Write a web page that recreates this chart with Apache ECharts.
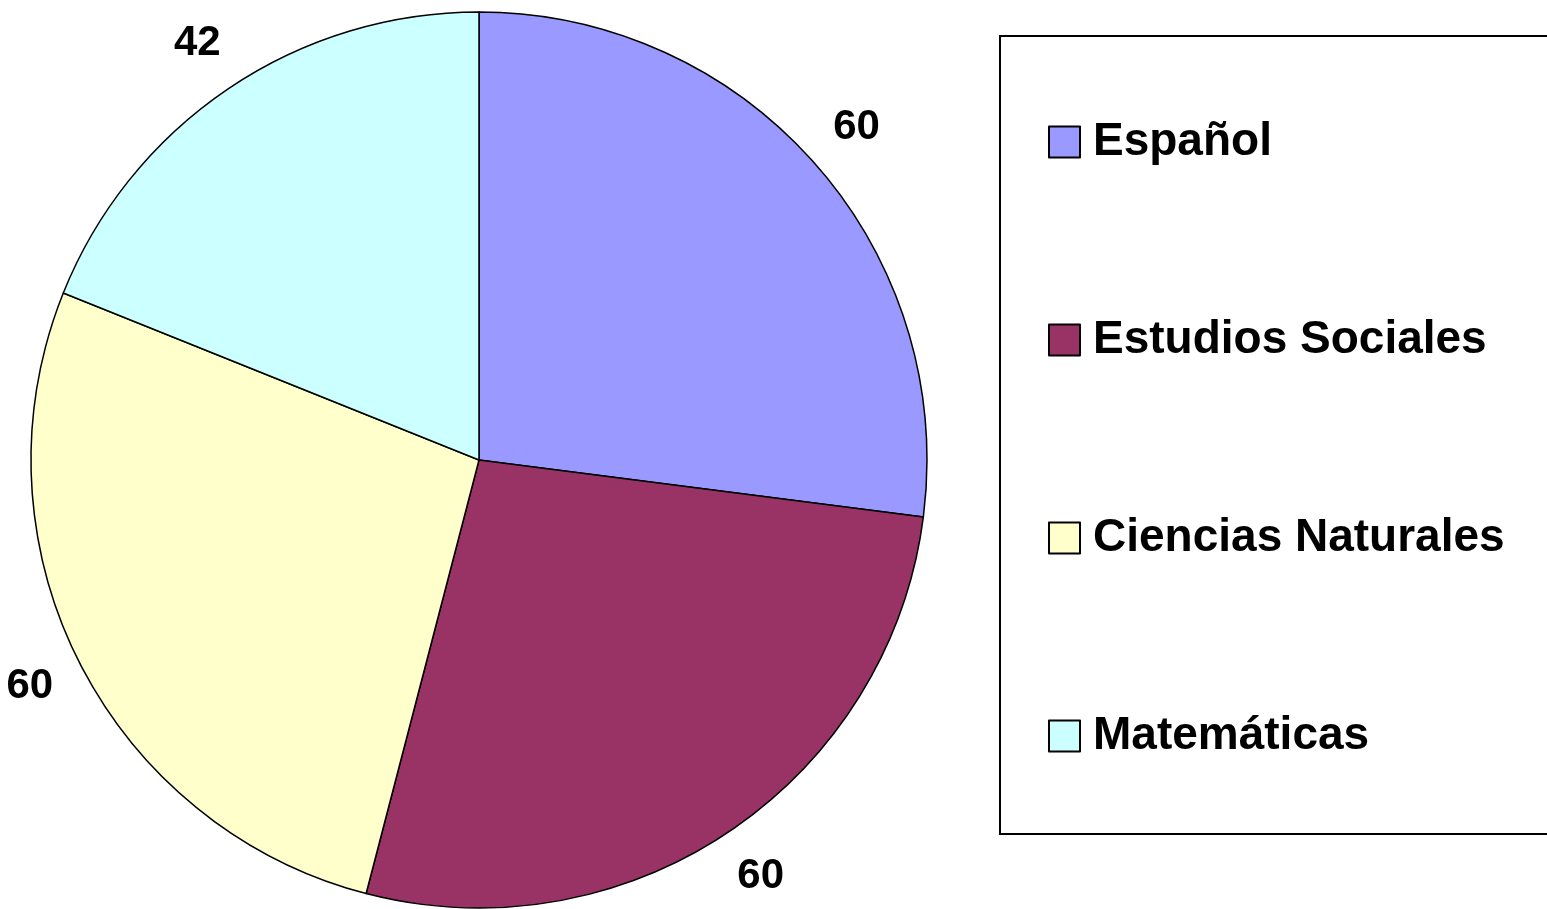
<!DOCTYPE html>
<html>
<head>
<meta charset="utf-8">
<script src="https://cdn.jsdelivr.net/npm/echarts@6/dist/echarts.min.js"></script>
<style>
  html, body { margin: 0; padding: 0; background: #fff; }
  #main { width: 1547px; height: 909px; }
</style>
</head>
<body>
<div id="main"></div>
<script>
// datos del gráfico
const materias = ['Español', 'Estudios Sociales', 'Ciencias Naturales', 'Matemáticas'];
const valores = [60, 60, 60, 42];
const colores = ['#9999FF', '#993366', '#FFFFCC', '#CCFFFF'];

var chart = echarts.init(document.getElementById('main'));

const datos = materias.map((m, i) => ({ name: m, value: valores[i], itemStyle: { color: colores[i] } }));
const etiquetas = materias.map((m, i) => ({ name: m, value: valores[i] }));

var option = {
    animation: false,
    graphic: [{
        type: 'rect',
        shape: { x: 1000, y: 36, width: 600, height: 798 },
        style: { fill: 'none', stroke: '#000', lineWidth: 2 },
        z: -1
    }],
    legend: {
        orient: 'vertical',
        left: 1043,
        top: 114,
        icon: 'rect',
        itemWidth: 31,
        itemHeight: 31,
        itemGap: 152,
        data: materias,
        textStyle: {
            fontFamily: 'Liberation Sans, Arial, sans-serif',
            fontWeight: 'bold',
            fontSize: 46,
            lineHeight: 46,
            color: '#000',
            padding: [0, 0, 0, 8]
        },
        itemStyle: { borderColor: '#000', borderWidth: 2 }
    },
    series: [
        {
            type: 'pie',
            center: [479, 460],
            radius: [0, 448],
            startAngle: 90,
            clockwise: true,
            data: datos,
            label: { show: false },
            labelLine: { show: false },
            itemStyle: { borderColor: '#000', borderWidth: 1.5 },
            emphasis: { disabled: true }
        },
        {
            // anillo invisible solo para colocar las etiquetas fuera
            type: 'pie',
            center: [479, 460],
            radius: [496, 504],
            startAngle: 90,
            clockwise: true,
            silent: true,
            data: etiquetas,
            itemStyle: { color: 'rgba(0,0,0,0)', borderWidth: 0 },
            label: {
                show: true,
                position: 'inside',
                formatter: '{c}',
                fontFamily: 'Liberation Sans, Arial, sans-serif',
                fontWeight: 'bold',
                fontSize: 42,
                color: '#000'
            },
            labelLine: { show: false },
            emphasis: { disabled: true }
        }
    ]
};

option && chart.setOption(option);
</script>
</body>
</html>
